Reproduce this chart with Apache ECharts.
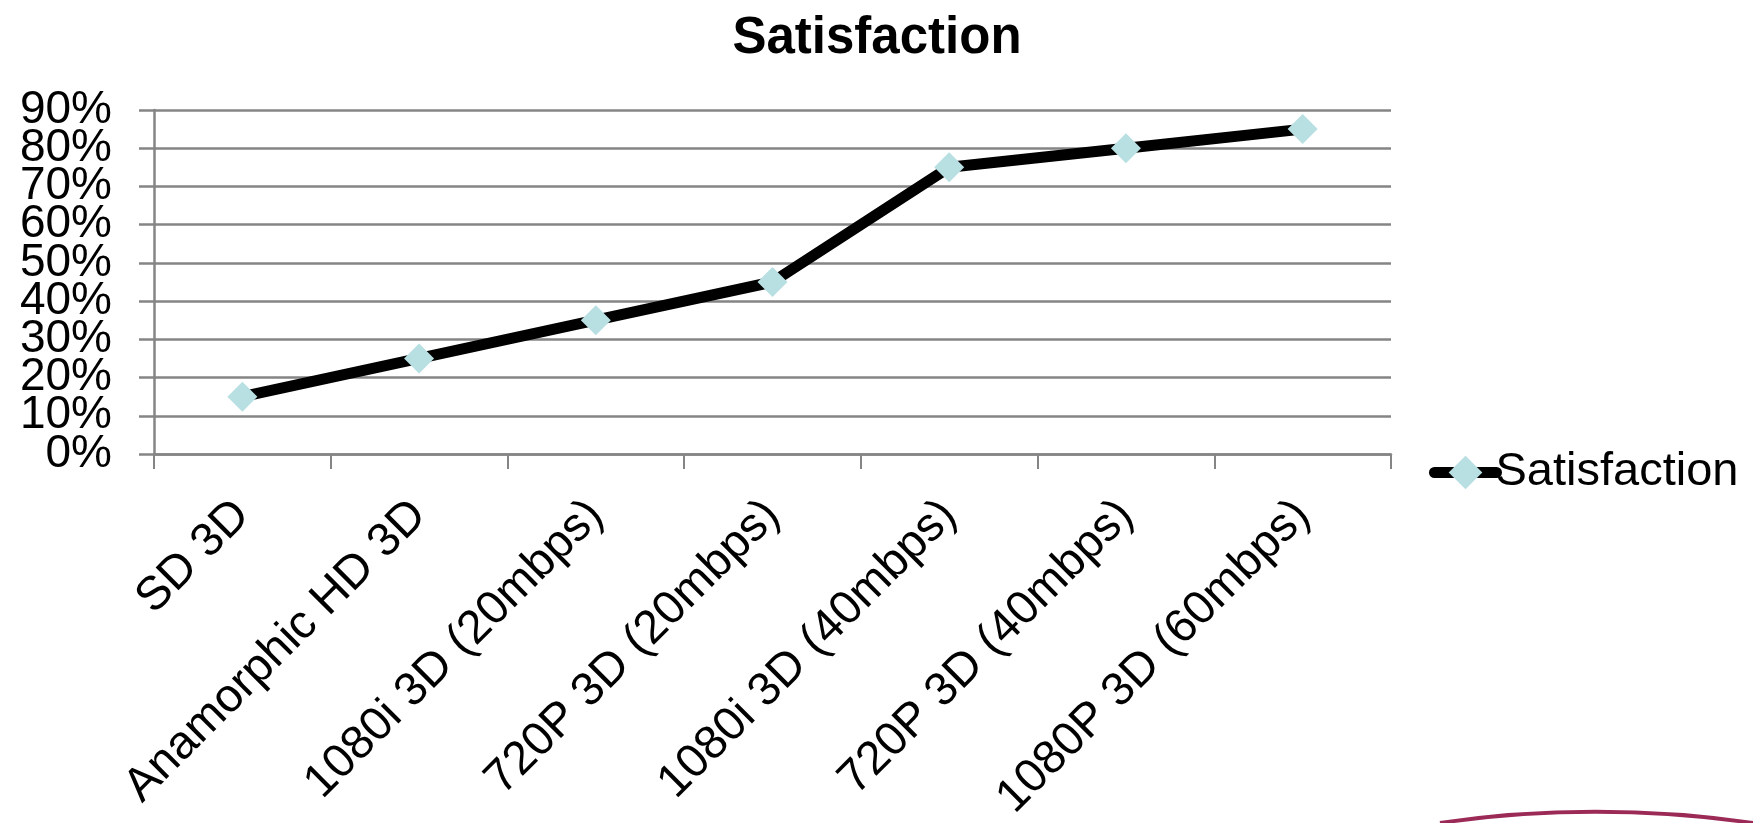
<!DOCTYPE html>
<html>
<head>
<meta charset="utf-8">
<title>Satisfaction</title>
<script src="https://cdn.jsdelivr.net/npm/echarts@6/dist/echarts.min.js"></script>
<style>
  html, body { margin: 0; padding: 0; background: #ffffff; }
  #chart { width: 1753px; height: 823px; }
</style>
</head>
<body>
<div id="chart"></div>
<script>
// Formats tested, in order along the category axis
const categories = [
  'SD 3D',
  'Anamorphic HD 3D',
  '1080i 3D (20mbps)',
  '720P 3D (20mbps)',
  '1080i 3D (40mbps)',
  '720P 3D (40mbps)',
  '1080P 3D (60mbps)'
];

// Share of viewers satisfied with each format (fraction)
const satisfaction = [0.15, 0.25, 0.35, 0.45, 0.75, 0.80, 0.85];

// Value-axis range and step
const yMin = 0;
const yMax = 0.9;
const yStep = 0.1;

// Percentage labels, one per value-axis tick from yMin to yMax
const yTickLabels = ['0%', '10%', '20%', '30%', '40%', '50%', '60%', '70%', '80%', '90%'];

const seriesName = 'Satisfaction';
const titleText = 'Satisfaction';

const FONT = '"Liberation Sans", Arial, sans-serif';
const GRID_GREY = '#858585';

const chart = echarts.init(document.getElementById('chart'), null, { renderer: 'canvas' });

chart.setOption({
  backgroundColor: '#ffffff',
  animation: false,
  title: {
    text: titleText,
    left: 872,
    textAlign: 'center',
    top: 8,
    textStyle: {
      fontFamily: FONT,
      fontWeight: 'bold',
      fontSize: 51,
      color: '#000000'
    }
  },
  legend: {
    data: [seriesName],
    orient: 'vertical',
    left: 1424,
    top: 444,
    itemWidth: 62,
    itemHeight: 42,
    itemGap: 0,
    lineStyle: { width: 11, color: '#000000', cap: 'round' },
    textStyle: {
      fontFamily: FONT,
      fontSize: 47,
      color: '#000000',
      padding: [0, 0, 0, -6]
    }
  },
  grid: {
    left: 154,
    right: 362,
    top: 110,
    bottom: 369,
    containLabel: false,
    outerBoundsMode: 'none'
  },
  xAxis: {
    type: 'category',
    data: categories,
    boundaryGap: true,
    axisLine: { show: true, lineStyle: { color: GRID_GREY, width: 2.5 } },
    axisTick: { show: true, length: 15, alignWithLabel: false, lineStyle: { color: GRID_GREY, width: 2 } },
    axisLabel: {
      rotate: 45,
      margin: 54,
      interval: 0,
      fontFamily: FONT,
      fontSize: 47,
      color: '#000000'
    },
    splitLine: { show: false }
  },
  yAxis: [
    {
      // value scale: carries the series, ticks and gridlines
      type: 'value',
      min: yMin,
      max: yMax,
      interval: yStep,
      axisLine: { show: true, lineStyle: { color: GRID_GREY, width: 2.5 } },
      axisTick: { show: true, length: 15, lineStyle: { color: GRID_GREY, width: 2.5 } },
      axisLabel: { show: false },
      splitLine: { show: true, lineStyle: { color: GRID_GREY, width: 2.5 } }
    },
    {
      // percentage labels at every tick; the large labels sit tightly stacked
      type: 'category',
      data: yTickLabels,
      boundaryGap: false,
      position: 'left',
      axisLine: { show: false },
      axisTick: { show: false },
      splitLine: { show: false },
      axisLabel: {
        interval: 0,
        margin: 42,
        fontFamily: FONT,
        fontSize: 46,
        color: '#000000'
      }
    }
  ],
  series: [{
    name: seriesName,
    type: 'line',
    yAxisIndex: 0,
    data: satisfaction,
    symbol: 'diamond',
    symbolSize: 30,
    showAllSymbol: true,
    lineStyle: { color: '#000000', width: 11 },
    itemStyle: { color: '#b8dfe2', borderWidth: 0 },
    z: 3
  }],
  graphic: [{
    // slide accent curve in the lower right corner
    type: 'bezierCurve',
    silent: true,
    shape: { x1: 1440, y1: 823, x2: 1753, y2: 823, cpx1: 1540, cpy1: 808, cpx2: 1650, cpy2: 808 },
    style: { stroke: '#9c2a57', lineWidth: 4, fill: null }
  }]
});
</script>
</body>
</html>
